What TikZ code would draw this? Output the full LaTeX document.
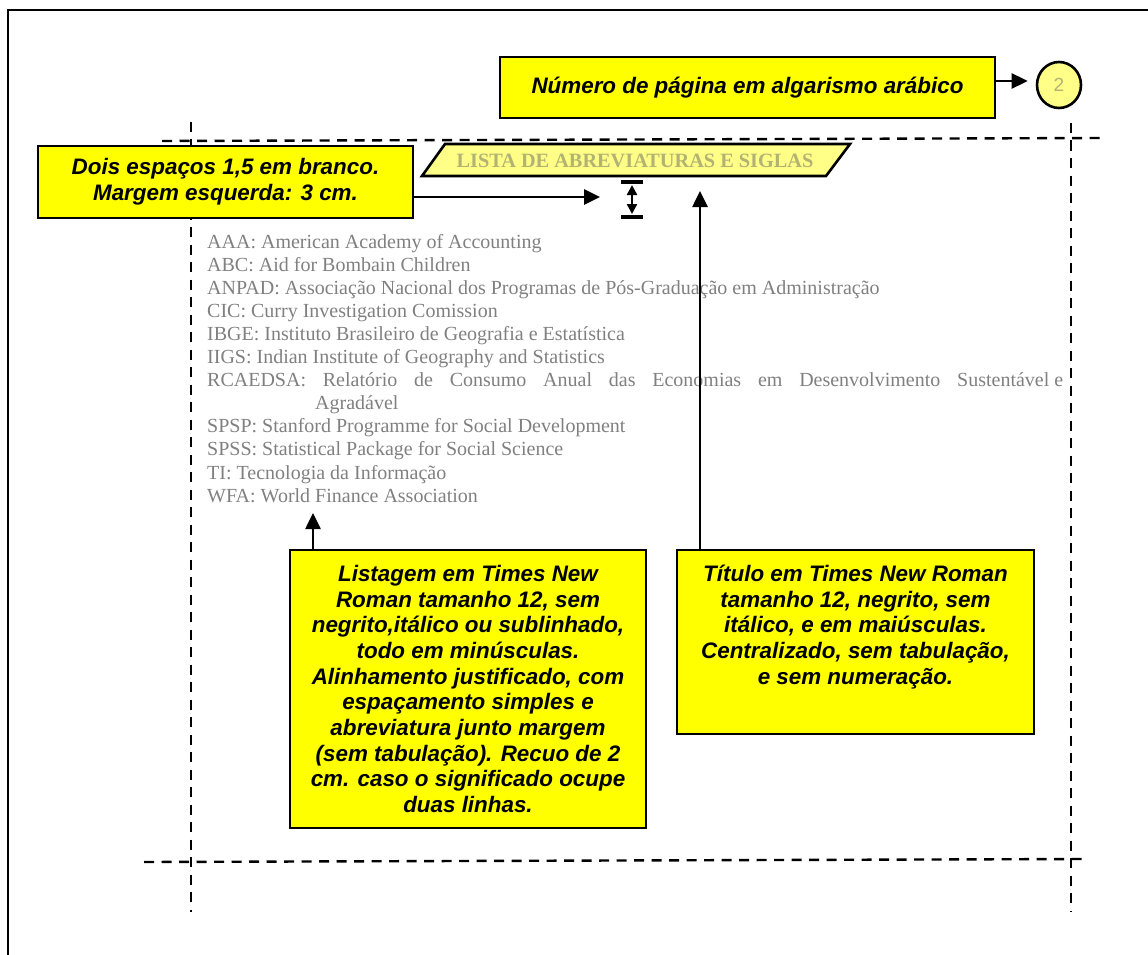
\documentclass[tikz,border=0pt]{standalone}
\usepackage{fontspec}
\setmainfont{Liberation Serif}
\newfontfamily\notefont{Liberation Sans}
\usetikzlibrary{arrows.meta,shapes.geometric}
\definecolor{noteyellow}{RGB}{255,255,0}
\definecolor{dotyellow}{RGB}{255,255,135}
\definecolor{titlegray}{RGB}{178,178,115}
\definecolor{listgray}{RGB}{128,128,128}
\begin{document}
\begin{tikzpicture}[x=1pt,y=-1pt,
  notebox/.style={draw=black, line width=2.6pt, fill=noteyellow, inner sep=0pt,
    font=\notefont\bfseries\itshape\fontsize{22.4}{25.7}\selectfont, align=center},
  notetext/.style={inner sep=0pt, align=center,
    font=\notefont\bfseries\itshape\fontsize{22.4}{25.7}\selectfont},
  arr/.style={line width=2.6pt, -{Triangle[length=16pt,width=15pt]}},
  guide/.style={line width=2.4pt, dash pattern=on 10pt off 7.5pt},
  item/.style={anchor=base west, inner sep=0pt, text=listgray,
    font=\fontsize{20}{23}\selectfont}
]
\useasboundingbox (0,0) rectangle (1148,955);

% page edge
\draw[line width=2.4pt] (8,955) -- (8,10) -- (1148,10);

% margin guides
\draw[guide] (162,141) -- (1102,138);
\draw[guide] (144,862) -- (1083,859);
\draw[guide] (191,122) -- (191,912);
\draw[guide] (1071,123) -- (1071,912);

% page number
\node[notebox, minimum width=495pt, minimum height=61pt] (pagebox) at (747.5,87.5)
  {Número de página em algarismo arábico};
\node[ellipse, draw=black, line width=2.6pt, fill=dotyellow, minimum width=44pt,
  minimum height=46pt, inner sep=0pt, text=titlegray,
  font=\notefont\fontsize{19}{22}\selectfont] (pagenum) at (1059,85) {\raisebox{-2pt}{2}};
\draw[arr, shorten >=8pt] ([yshift=6.5pt]pagebox.east) -- ([yshift=6.5pt]pagebox.east -| pagenum.west);

% title band
\draw[line width=2.6pt, fill=dotyellow] (445,144) -- (850,144) -- (826,176) -- (422,176) -- cycle;
\node[anchor=base, inner sep=0pt, text=titlegray,
  font=\bfseries\fontsize{20.3}{23}\selectfont] (title) at (635,167)
  {LISTA DE ABREVIATURAS E SIGLAS};

% blank lines note
\node[notebox, minimum width=375pt, minimum height=72pt] (marginbox) at (225.5,182)
  {Dois espaços 1,5 em branco.\\Margem esquerda: 3 cm.};
\coordinate (gaptop) at (632,182);
\coordinate (gapbot) at (632,217);
\coordinate (gapin) at (600,197);
\draw[line width=3.2pt] ([xshift=-11pt]gaptop) -- ([xshift=11pt]gaptop);
\draw[line width=3.2pt] ([xshift=-11pt]gapbot) -- ([xshift=11pt]gapbot);
\draw[line width=2.4pt, {Triangle[length=10pt,width=10pt]}-{Triangle[length=10pt,width=10pt]},
  shorten <=3pt, shorten >=3pt] (gaptop) -- (gapbot);
\draw[arr] (marginbox.east |- gapin) -- (gapin);

% list of abbreviations
\node[item] (i1) at (207,248) {AAA: American Academy of Accounting};
\node[item] (i2) at (207,271.1) {ABC: Aid for Bombain Children};
\node[item] (i3) at (207,294.2) {ANPAD: Associação Nacional dos Programas de Pós-Graduação em Administração};
\node[item] (i4) at (207,317.3) {CIC: Curry Investigation Comission};
\node[item] (i5) at (207,340.4) {IBGE: Instituto Brasileiro de Geografia e Estatística};
\node[item] (i6) at (207,363.5) {IIGS: Indian Institute of Geography and Statistics};
\node[item] (i7) at (207,386.6) {\hbox to 856pt{RCAEDSA:\hfill Relatório\hfill de\hfill Consumo\hfill Anual\hfill das\hfill Economias\hfill em\hfill Desenvolvimento\hfill Sustentável e}};
\node[item] (i7b) at (315,409.7) {Agradável};
\node[item] (i8) at (207,432.8) {SPSP: Stanford Programme for Social Development};
\node[item] (i9) at (207,455.9) {SPSS: Statistical Package for Social Science};
\node[item] (i10) at (207,479) {TI: Tecnologia da Informação};
\node[item] (i11) at (207,502.1) {WFA: World Finance Association};

% list note
\node[notebox, minimum width=356pt, minimum height=278pt] (listbox) at (468,689)
  {Listagem em Times New\\Roman tamanho 12, sem\\negrito,itálico ou sublinhado,\\todo em minúsculas.\\Alinhamento justificado, com\\espaçamento simples e\\abreviatura junto margem\\(sem tabulação). Recuo de 2\\cm. caso o significado ocupe\\duas linhas.};
\coordinate (listtip) at (313,513);
\draw[arr] (listbox.north -| listtip) -- (listtip);

% title note
\node[notebox, minimum width=357pt, minimum height=184pt] (titlebox) at (855.5,642) {};
\node[notetext] (titlenote) at (855.5,627)
  {Título em Times New Roman\\tamanho 12, negrito, sem\\itálico, e em maiúsculas.\\Centralizado, sem tabulação,\\e sem numeração.};
\coordinate (titletip) at (700,191);
\draw[arr] (titlebox.north -| titletip) -- (titletip);
\end{tikzpicture}
\end{document}
